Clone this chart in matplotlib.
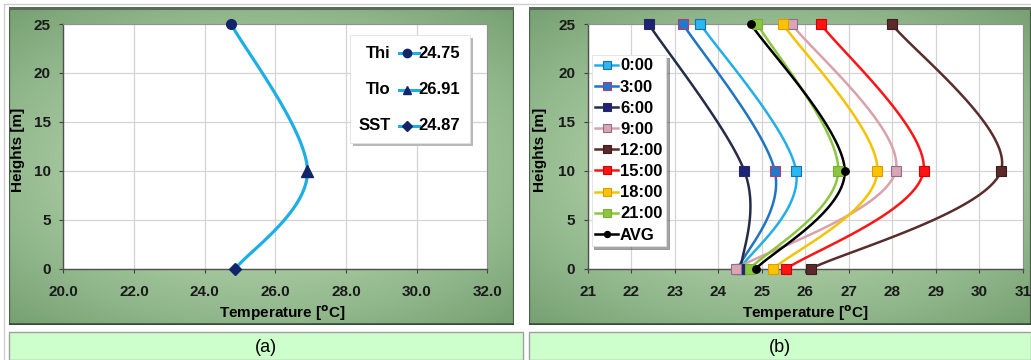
import numpy as np
import matplotlib
matplotlib.use("Agg")
import matplotlib.pyplot as plt
from matplotlib.patches import Rectangle
from matplotlib.lines import Line2D
from matplotlib.colors import to_rgb

plt.rcParams['font.family'] = ['Liberation Sans', 'DejaVu Sans']
plt.rcParams['font.weight'] = 'bold'
plt.rcParams['mathtext.fontset'] = 'custom'
plt.rcParams['mathtext.rm'] = 'Liberation Sans:bold'
plt.rcParams['mathtext.bf'] = 'Liberation Sans:bold'

W, H = 1031, 360

# heights of the three sensors [m]
heights = [0, 10, 25]

# (a) average profile: SST, Tlo, Thi
avg_names = ['SST', 'Tlo', 'Thi']
avg_temp = [24.87, 26.91, 24.75]

# (b) profiles at each hour (values at 0 m, 10 m, 25 m)
hours = ['0:00', '3:00', '6:00', '9:00', '12:00', '15:00', '18:00', '21:00', 'AVG']
temp_0 = [24.50, 25.79, 23.59]
temp_3 = [24.45, 25.30, 23.19]
temp_6 = [24.52, 24.60, 22.40]
temp_9 = [24.40, 28.08, 25.69]
temp_12 = [26.13, 30.50, 27.99]
temp_15 = [25.57, 28.72, 26.36]
temp_18 = [25.27, 27.66, 25.49]
temp_21 = [24.73, 26.76, 24.90]
temp_avg = [24.87, 26.91, 24.75]
profiles = [temp_0, temp_3, temp_6, temp_9, temp_12, temp_15, temp_18, temp_21, temp_avg]

# line colour, marker face, marker edge, marker
styles = [
    ('#22aee6', '#2ab8f0', '#1b6fb0', 's'),
    ('#1f74c4', '#2179cc', '#b8396a', 's'),
    ('#252c48', '#1c2378', '#2a2a5a', 's'),
    ('#d9a2aa', '#dba6b4', '#8c6f8f', 's'),
    ('#5a2c2c', '#5c2a2a', '#3e1c1c', 's'),
    ('#ff1414', '#ff1414', '#d00000', 's'),
    ('#f6c200', '#f8c400', '#e09a00', 's'),
    ('#8cc640', '#8cc640', '#78b030', 's'),
    ('#000000', '#000000', '#000000', 'o'),
]


def smooth(xs, ys, n=60):
    # cubic bezier through the points, catmull-rom style tangents
    pts = np.column_stack([xs, ys]).astype(float)
    out = []
    t = np.linspace(0, 1, n)[:, None]
    for i in range(len(pts) - 1):
        p0 = pts[max(i - 1, 0)]
        p1 = pts[i]
        p2 = pts[i + 1]
        p3 = pts[min(i + 2, len(pts) - 1)]
        c1 = p1 + (p2 - p0) / 6
        c2 = p2 - (p3 - p1) / 6
        seg = (1 - t)**3 * p1 + 3 * (1 - t)**2 * t * c1 + 3 * (1 - t) * t**2 * c2 + t**3 * p2
        out.append(seg if i == 0 else seg[1:])
    seg = np.vstack(out)
    return seg[:, 0], seg[:, 1]


def box(x0, y0, x1, y1):
    # pixel box (top-left origin) -> figure fraction rect
    return [x0 / W, 1 - y1 / H, (x1 - x0) / W, (y1 - y0) / H]


def frame(x0, y0, x1, y1):
    ax = fig.add_axes(box(x0, y0, x1, y1))
    ax.set_axis_off()
    nx, ny = int(x1 - x0), int(y1 - y0)
    u = np.linspace(-1, 1, nx)[None, :]
    v = np.linspace(-1, 1, ny)[:, None]
    r = np.clip(np.sqrt(u**2 * 0.8 + v**2) / 1.3, 0, 1)
    c_in = np.array(to_rgb('#bcdab4'))
    c_out = np.array(to_rgb('#78a274'))
    img = c_in + (c_out - c_in) * (r**1.5)[..., None]
    ax.imshow(img, aspect='auto', extent=[0, 1, 0, 1], interpolation='bilinear')
    ax.set_xlim(0, 1)
    ax.set_ylim(0, 1)
    ax.add_patch(Rectangle((0, 0), 1, 1, fill=False, edgecolor='#4a5c48', lw=1.6))
    ax.plot([0, 1], [0.997, 0.997], color='#5a6a58', lw=2.2)
    ax.plot([0, 1], [0.004, 0.004], color='#3a4a38', lw=1.8)


def caption(x0, x1, text):
    fig.patches.append(Rectangle((x0 / W, 0), (x1 - x0) / W, 1 - 332 / H,
                                 transform=fig.transFigure, facecolor='#ccffcc',
                                 edgecolor='#a0a0a0', lw=1.0))
    fig.text((x0 + x1) / 2 / W, 1 - 347 / H, text, ha='center', va='center',
             fontsize=13, fontweight='normal', family=['Liberation Sans'])


def style_axes(ax, xlim, xticks, fmt):
    ax.set_facecolor('white')
    ax.set_xlim(*xlim)
    ax.set_ylim(0, 25)
    ax.set_xticks(xticks)
    ax.set_xticklabels([fmt.format(v) for v in xticks])
    ax.set_yticks([0, 5, 10, 15, 20, 25])
    ax.grid(True, color='#d4d4d4', lw=0.9)
    ax.set_axisbelow(True)
    ax.tick_params(axis='both', direction='out', length=3, width=0.8, color='#404040',
                   labelsize=11, labelcolor='#1a1a1a')
    ax.tick_params(axis='x', pad=9)
    ax.tick_params(axis='y', pad=6)
    for s in ['left', 'bottom']:
        ax.spines[s].set_color('#505050')
        ax.spines[s].set_linewidth(1.0)
    for s in ['top', 'right']:
        ax.spines[s].set_color('#909090')
        ax.spines[s].set_linewidth(0.8)


xlabel = r'Temperature [$^{\mathsf{o}}$C]'

fig = plt.figure(figsize=(W / 100, H / 100), dpi=100)
fig.patch.set_facecolor('white')
fig.add_artist(Line2D([4 / W, 1], [1 - 4 / H] * 2, color='#cfcfcf', lw=1.0))
fig.add_artist(Line2D([4 / W] * 2, [0, 1 - 4 / H], color='#cfcfcf', lw=1.0))

frame(9, 7, 514, 325)
frame(529, 7, 1031, 325)
caption(9, 523, '(a)')
caption(529, 1031, '(b)')

# ---- (a) average profile
ax1 = fig.add_axes(box(63.3, 24, 487.3, 268.7))
style_axes(ax1, (20, 32), [20, 22, 24, 26, 28, 30, 32], '{:.1f}')
sx, sy = smooth(avg_temp, heights)
ax1.plot(sx, sy, color='#1eaee6', lw=2.3, zorder=3, clip_on=False)
markers_a = ['D', '^', 'o']
sizes_a = [6.5, 8.5, 7]
for t, h, m, s in zip(avg_temp, heights, markers_a, sizes_a):
    ax1.plot([t], [h], marker=m, ms=s, color='#12256a', zorder=4, clip_on=False)

fig.text(18 / W, 1 - 150 / H, 'Heights [m]', rotation=90, ha='center', va='center', fontsize=11)
fig.text(282 / W, 1 - 313 / H, xlabel, ha='center', va='center', fontsize=11)

# legend box of (a)
fig.patches.append(Rectangle((353 / W, 1 - 146 / H), 120 / W, 108 / H, transform=fig.transFigure,
                             facecolor='#b8b8b8', edgecolor='none', zorder=5))
fig.patches.append(Rectangle((350 / W, 1 - 143 / H), 120 / W, 108 / H, transform=fig.transFigure,
                             facecolor='white', edgecolor='#e0e0e0', lw=0.6, zorder=6))
rows_y = [126, 90, 53]
for name, t, m, s, yy in zip(avg_names, avg_temp, markers_a, [5, 6, 6], rows_y):
    fy = 1 - yy / H
    fig.text(391 / W, fy, name, ha='right', va='center', fontsize=12, zorder=7)
    fig.add_artist(Line2D([399 / W, 419 / W], [fy, fy], color='#1eaee6', lw=2.2, zorder=7))
    fig.add_artist(Line2D([407 / W], [fy], marker=m, ms=s, color='#12256a', zorder=8))
    fig.text(418 / W, fy, '{:.2f}'.format(t), ha='left', va='center', fontsize=12, zorder=7)

# ---- (b) hourly profiles
ax2 = fig.add_axes(box(587.7, 24, 1022.7, 268.7))
style_axes(ax2, (21, 31), list(range(21, 32)), '{:d}')
handles = []
for name, temps, (lc, fc, ec, mk) in zip(hours, profiles, styles):
    sx, sy = smooth(temps, heights)
    ax2.plot(sx, sy, color=lc, lw=1.8, zorder=3, clip_on=False)
    ms = 7 if mk == 's' else 5.5
    ax2.plot(temps, heights, ls='none', marker=mk, ms=ms, mfc=fc, mec=ec, mew=0.8,
             zorder=4, clip_on=False)
    handles.append(Line2D([], [], color=lc, lw=1.8, marker=mk, ms=ms - 1, mfc=fc, mec=ec,
                          mew=0.8, label=name))

fig.text(540 / W, 1 - 150 / H, 'Heights [m]', rotation=90, ha='center', va='center', fontsize=11)
fig.text(805 / W, 1 - 313 / H, xlabel, ha='center', va='center', fontsize=11)

leg = ax2.legend(handles=handles, loc='upper left', bbox_to_anchor=(4 / 435, 1 - 31 / 244.7),
                 fontsize=12, frameon=True, fancybox=False, shadow=True, handlelength=1.4,
                 handletextpad=0.1, labelspacing=0.37, borderpad=0.2, borderaxespad=0)
leg.get_frame().set_edgecolor('#e0e0e0')
leg.get_frame().set_linewidth(0.6)
for txt in leg.get_texts():
    txt.set_fontweight('bold')

fig.savefig('out.png', dpi=100)
